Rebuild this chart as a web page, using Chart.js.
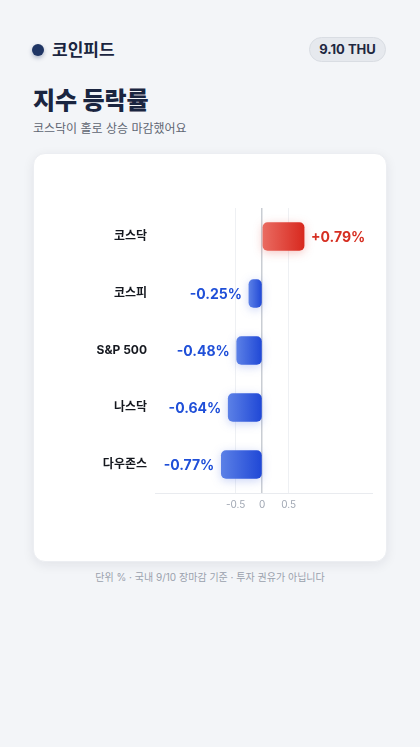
<!DOCTYPE html>
<html lang="ko">
<head>
<meta charset="utf-8">
<script src="https://cdn.jsdelivr.net/npm/chart.js@4/dist/chart.umd.min.js"></script>
<style>
    html, body { margin: 0; padding: 0; }
    body {
        width: 420px; height: 747px; background: #f3f5f8; position: relative; overflow: hidden;
        font-family: 'Inter', 'Noto Sans CJK KR', sans-serif; color: #1a2540;
    }
    .dot {
        position: absolute; left: 32px; top: 44px; width: 12px; height: 12px; border-radius: 50%;
        background: #1f3564; box-shadow: 0 2px 4px rgba(31,53,100,0.35);
    }
    .brand { position: absolute; left: 52px; top: 38px; font-size: 17px; font-weight: 700; line-height: 24px; }
    .pill {
        position: absolute; left: 309px; top: 37px; width: 77px; height: 25px; border-radius: 13px;
        background: #e6e9ee; border: 1px solid #d9dde3; box-sizing: border-box;
        font-size: 13px; font-weight: 700; line-height: 23px; text-align: center; color: #1e2740;
    }
    h1 { position: absolute; left: 33px; top: 84px; margin: 0; font-size: 24px; font-weight: 800; line-height: 34px; }
    .sub { position: absolute; left: 33px; top: 120px; font-size: 12px; color: #5f6673; line-height: 18px; }
    .card {
        position: absolute; left: 33px; top: 153px; width: 354px; height: 409px; background: #fff;
        border-radius: 12px; box-shadow: 0 3px 12px rgba(20,30,50,0.08); border: 1px solid #eceef2; box-sizing: border-box;
    }
    .card canvas { position: absolute; left: -1px; top: -1px; }
    .foot { position: absolute; left: 0; width: 420px; top: 570px; text-align: center; font-size: 10px; color: #9aa1ad; line-height: 14px; }
</style>
</head>
<body>
<div class="dot"></div>
<div class="brand">코인피드</div>
<div class="pill">9.10 THU</div>
<h1>지수 등락률</h1>
<div class="sub">코스닥이 홀로 상승 마감했어요</div>
<div class="card"><canvas id="rates" width="354" height="409"></canvas></div>
<div class="foot">단위 % · 국내 9/10 장마감 기준 · 투자 권유가 아닙니다</div>
<script>
const labels = ['코스닥', '코스피', 'S&P 500', '나스닥', '다우존스'];
const changes = [0.79, -0.25, -0.48, -0.64, -0.77];
const tickValues = [-0.5, 0, 0.5];

const upData = changes.map(v => v > 0 ? v : null);
const downData = changes.map(v => v < 0 ? v : null);

function barGradient(light, dark) {
    return function(ctx) {
        const chart = ctx.chart;
        const v = ctx.raw;
        if (!chart.chartArea || v == null) return dark;
        const x = chart.scales.x;
        const x0 = x.getPixelForValue(Math.min(0, v));
        const x1 = x.getPixelForValue(Math.max(0, v));
        const g = chart.ctx.createLinearGradient(x0, 0, x1, 0);
        g.addColorStop(0, light);
        g.addColorStop(1, dark);
        return g;
    };
}

const glowPlugin = {
    id: 'glow',
    beforeDatasetDraw(chart, args) {
        const ctx = chart.ctx;
        ctx.save();
        ctx.shadowColor = args.index === 0 ? 'rgba(220,50,40,0.28)' : 'rgba(40,80,220,0.25)';
        ctx.shadowBlur = 10;
        ctx.shadowOffsetY = 2;
    },
    afterDatasetDraw(chart) {
        chart.ctx.restore();
    }
};

const valueLabels = {
    id: 'valueLabels',
    afterDatasetsDraw(chart) {
        const ctx = chart.ctx;
        ctx.save();
        ctx.font = '700 14px Inter, "Noto Sans CJK KR", sans-serif';
        ctx.textBaseline = 'middle';
        chart.data.datasets.forEach((ds, di) => {
            const meta = chart.getDatasetMeta(di);
            meta.data.forEach((bar, i) => {
                const v = ds.data[i];
                if (v == null) return;
                if (v > 0) {
                    ctx.fillStyle = '#d62f22';
                    ctx.textAlign = 'left';
                    ctx.fillText('+' + v.toFixed(2) + '%', bar.x + 7, bar.y + 1);
                } else {
                    ctx.fillStyle = '#1f4fd8';
                    ctx.textAlign = 'right';
                    ctx.fillText(v.toFixed(2) + '%', bar.x - 7, bar.y + 1);
                }
            });
        });
        ctx.restore();
    }
};

new Chart(
    document.getElementById('rates'),
    {
        type: 'bar',
        plugins: [glowPlugin, valueLabels],
        options: {
            responsive: false,
            animation: false,
            indexAxis: 'y',
            layout: {
                padding: { top: 55, right: 15, left: 0, bottom: 0 }
            },
            plugins: {
                legend: { display: false },
                tooltip: { enabled: false }
            },
            scales: {
                x: {
                    min: -2.02,
                    max: 2.07,
                    afterBuildTicks: scale => {
                        scale.ticks = tickValues.map(v => ({ value: v }));
                    },
                    afterFit: scale => { scale.height = 69; },
                    grid: {
                        drawTicks: false,
                        color: ctx => ctx.tick && ctx.tick.value === 0 ? '#c9cdd3' : '#eef0f3',
                        lineWidth: ctx => ctx.tick && ctx.tick.value === 0 ? 1.5 : 1
                    },
                    border: { color: '#e9ebef' },
                    ticks: {
                        padding: 6,
                        color: '#a0a7b3',
                        font: { size: 10, family: 'Inter, "Noto Sans CJK KR", sans-serif' },
                        callback: v => v === 0 ? '0' : String(v)
                    }
                },
                y: {
                    stacked: true,
                    afterFit: scale => { scale.width = 122; },
                    grid: { display: false, drawTicks: false },
                    border: { display: false },
                    ticks: {
                        padding: 8,
                        color: '#15181f',
                        font: { size: 12, weight: '700', family: 'Inter, "Noto Sans CJK KR", sans-serif' }
                    }
                }
            }
        },
        data: {
            labels: labels,
            datasets: [
                {
                    label: '상승',
                    data: upData,
                    stack: 'rate',
                    barThickness: 28,
                    borderRadius: 5,
                    borderSkipped: false,
                    backgroundColor: barGradient('#ea6c62', '#d8291f')
                }, {
                    label: '하락',
                    data: downData,
                    stack: 'rate',
                    barThickness: 28,
                    borderRadius: 5,
                    borderSkipped: false,
                    backgroundColor: barGradient('#5b80e6', '#1f47d6')
                }
            ]
        }
    }
);
</script>
</body>
</html>
